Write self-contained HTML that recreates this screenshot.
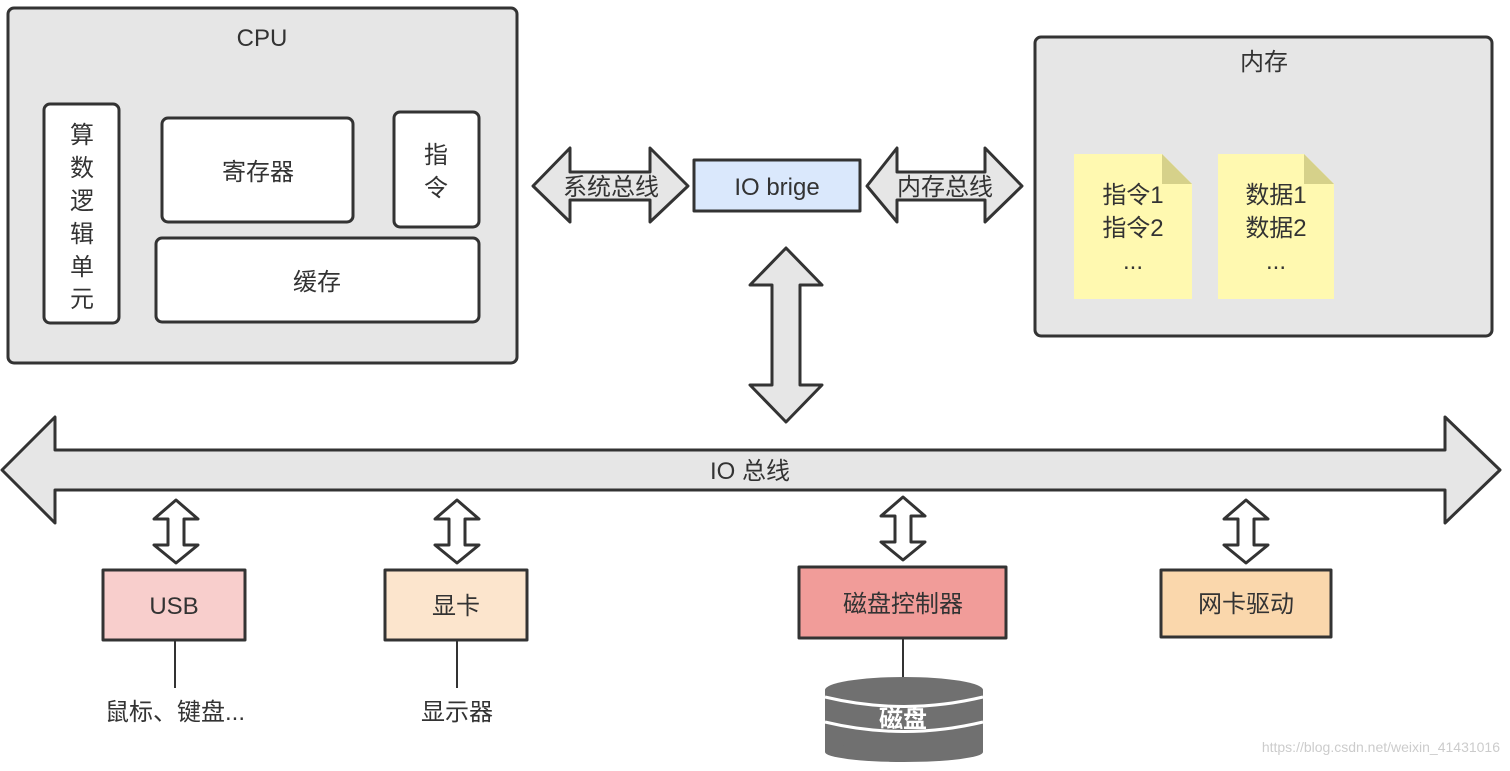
<!DOCTYPE html>
<html><head><meta charset="utf-8"><style>
html,body{margin:0;padding:0;background:#fff;}
text{font-family:"Liberation Sans","Noto Sans CJK SC",sans-serif;fill:#333;}
</style></head><body>
<svg width="1510" height="766" viewBox="0 0 1510 766" xmlns="http://www.w3.org/2000/svg">
<g stroke="#333" stroke-width="3" stroke-linejoin="round">
<!-- CPU -->
<rect x="8" y="8" width="509" height="355" rx="6" fill="#e6e6e6"/>
<rect x="44" y="104" width="75" height="219" rx="6" fill="#fff"/>
<rect x="162" y="118" width="191" height="104" rx="6" fill="#fff"/>
<rect x="394" y="112" width="85" height="115" rx="6" fill="#fff"/>
<rect x="156" y="238" width="323" height="84" rx="6" fill="#fff"/>
<!-- Memory -->
<rect x="1035" y="37" width="457" height="299" rx="6" fill="#e6e6e6"/>
<!-- arrows -->
<path d="M533,186 L570,148 L570,172 L650,172 L650,148 L688,186 L650,222 L650,200 L570,200 L570,222 Z" fill="#e6e6e6"/>
<path d="M867,186 L897,148 L897,172 L985,172 L985,148 L1022,186 L985,222 L985,200 L897,200 L897,222 Z" fill="#e6e6e6"/>
<path d="M786,248 L822,285 L800,285 L800,385 L822,385 L786,422 L750,385 L772,385 L772,285 L750,285 Z" fill="#e6e6e6"/>
<path d="M2,470 L55,417 L55,450 L1445,450 L1445,417 L1500,470 L1445,523 L1445,490 L55,490 L55,523 Z" fill="#e6e6e6"/>
<rect x="694" y="160" width="166" height="51" fill="#dae8fc"/>
<!-- bottom boxes -->
<rect x="103" y="570" width="142" height="70" fill="#f8cecc"/>
<rect x="385" y="570" width="142" height="70" fill="#fce5cd"/>
<rect x="799" y="567" width="207" height="71" fill="#f19c99"/>
<rect x="1161" y="570" width="170" height="67" fill="#fad7ac"/>
</g>
<g stroke="#333" stroke-width="3" fill="#fff" stroke-linejoin="round">
<path id="sa" d="M176,500 L198,519 L184,519 L184,545 L198,545 L176,563 L154,545 L168,545 L168,519 L154,519 Z"/>
<use href="#sa" x="281"/>
<use href="#sa" x="727" y="-3"/>
<use href="#sa" x="1070"/>
</g>
<g stroke="#333" stroke-width="2">
<line x1="175" y1="640" x2="175" y2="688"/>
<line x1="457" y1="640" x2="457" y2="688"/>
<line x1="903" y1="638" x2="903" y2="678"/>
</g>
<!-- notes -->
<path d="M1074,154 L1162,154 L1192,184 L1192,299 L1074,299 Z" fill="#fff9b0"/>
<path d="M1162,154 L1192,184 L1162,184 Z" fill="#d6d18a"/>
<path d="M1218,154 L1304,154 L1334,184 L1334,299 L1218,299 Z" fill="#fff9b0"/>
<path d="M1304,154 L1334,184 L1304,184 Z" fill="#d6d18a"/>
<!-- disk -->
<rect x="825" y="690" width="158" height="62" fill="#707070"/>
<ellipse cx="904" cy="752" rx="79" ry="10" fill="#707070"/>
<ellipse cx="904" cy="690" rx="79" ry="13" fill="#707070"/>
<path d="M825,697 Q904,716 983,697" stroke="#fff" stroke-width="3" fill="none"/>
<path d="M825,722 Q904,741 983,722" stroke="#fff" stroke-width="3" fill="none"/>
<g font-size="24" text-anchor="middle">
<text x="262" y="46">CPU</text>
<text x="1264" y="70">内存</text>
<text x="82" y="143">算</text><text x="82" y="176">数</text><text x="82" y="209">逻</text>
<text x="82" y="242">辑</text><text x="82" y="275">单</text><text x="82" y="307">元</text>
<text x="258" y="180">寄存器</text>
<text x="436" y="163">指</text><text x="436" y="196">令</text>
<text x="317" y="290">缓存</text>
<text x="611" y="195">系统总线</text>
<text x="777" y="195">IO brige</text>
<text x="945" y="195">内存总线</text>
<text x="750" y="479">IO 总线</text>
<text x="1133" y="203">指令1</text><text x="1133" y="236">指令2</text><text x="1133" y="269">...</text>
<text x="1276" y="203">数据1</text><text x="1276" y="236">数据2</text><text x="1276" y="269">...</text>
<text x="174" y="614">USB</text>
<text x="456" y="614">显卡</text>
<text x="903" y="612">磁盘控制器</text>
<text x="1246" y="612">网卡驱动</text>
<text x="175" y="720">鼠标、键盘...</text>
<text x="457" y="720">显示器</text>
<text x="903" y="727" style="fill:#fff;font-weight:bold">磁盘</text>
</g>
<text x="1500" y="752" font-size="14" text-anchor="end" style="fill:#ccc">https://blog.csdn.net/weixin_41431016</text>
</svg>
</body></html>
